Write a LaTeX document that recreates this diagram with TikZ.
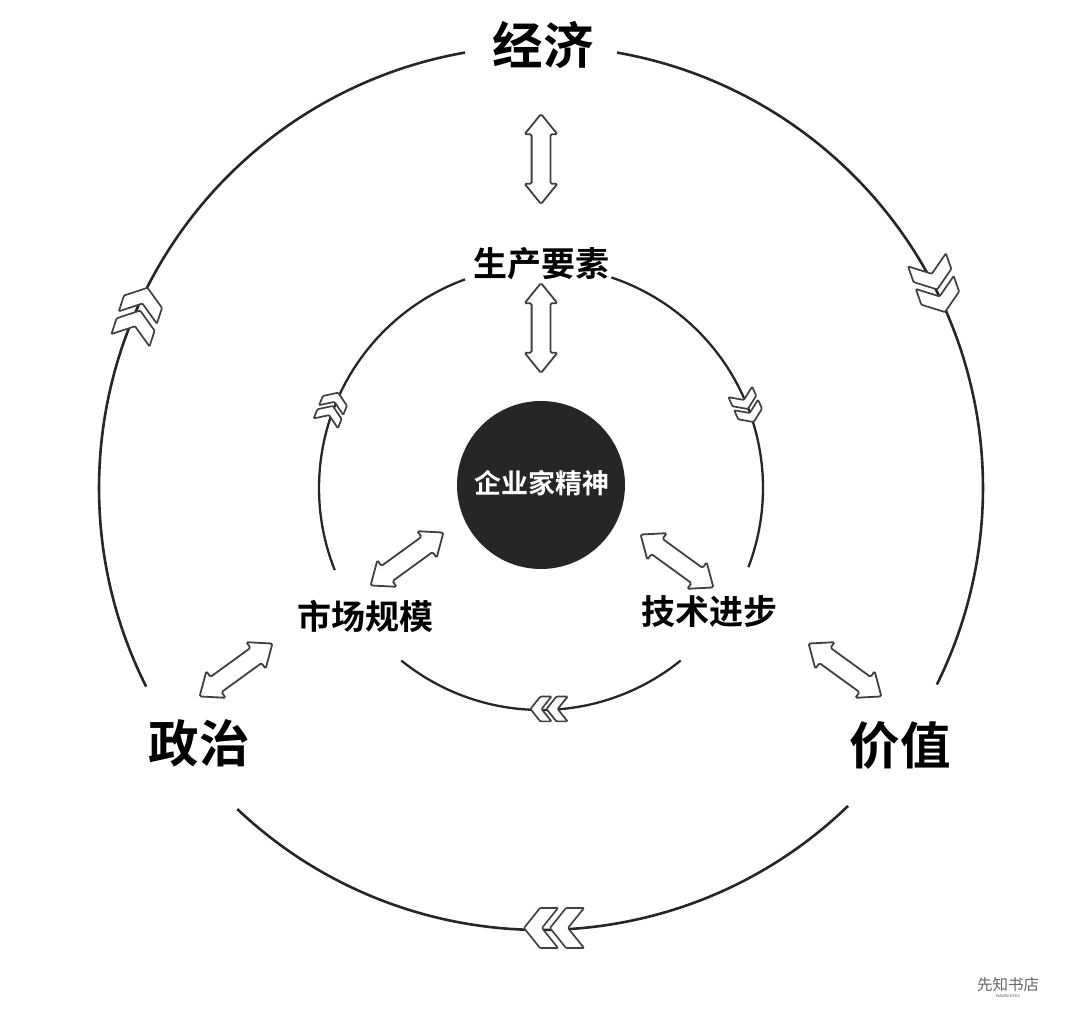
\documentclass[tikz,border=0pt]{standalone}
\usepackage{fontspec}
\newfontfamily\cjk{Noto Sans CJK SC}[BoldFont={Noto Sans CJK SC Bold}]
\usetikzlibrary{shapes.arrows}
\tikzset{
  bigarc/.style={line width=2.6pt, draw=black!85},
  smallarc/.style={line width=2.3pt, draw=black!85},
  twoway/.style={double arrow, draw=black!75, fill=white, line width=1.8pt, inner xsep=0pt, inner ysep=8.5pt,
    minimum width=31pt, minimum height=90pt, double arrow head extend=7pt,
    double arrow tip angle=78, rounded corners=1.5pt},
  biglabel/.style={font=\cjk\bfseries\fontsize{50.5}{51}\selectfont, inner sep=0pt},
  midlabel/.style={font=\cjk\bfseries\fontsize{34}{34}\selectfont, inner sep=0pt},
  chevrons/.pic={
    \draw[draw=black!75, fill=white, line width=1.7pt, rounded corners=1pt]
      (-12,20) -- (-30,20) -- (-14,0) -- (-30,-20) -- (-12,-20) -- (4,0) -- cycle;
    \draw[draw=black!75, fill=white, line width=1.7pt, rounded corners=1pt]
      (14,20) -- (-4,20) -- (12,0) -- (-4,-20) -- (14,-20) -- (30,0) -- cycle;
  }
}
\begin{document}
\begin{tikzpicture}[x=1pt,y=1pt]
\useasboundingbox (0,0) rectangle (1080,1028);
\coordinate (o) at (541,540);

\draw[bigarc] ([shift={(206.7:442)}]o) arc[start angle=206.7, end angle=99.9, radius=442];
\draw[bigarc] ([shift={(80.1:442)}]o) arc[start angle=80.1, end angle=-26.4, radius=442];
\draw[bigarc] ([shift={(-46:442)}]o) arc[start angle=-46, end angle=-133.4, radius=442];
\draw[smallarc] ([shift={(201.7:222)}]o) arc[start angle=201.7, end angle=110, radius=222];
\draw[smallarc] ([shift={(71.5:222)}]o) arc[start angle=71.5, end angle=-20.9, radius=222];
\draw[smallarc] ([shift={(-51:222)}]o) arc[start angle=-51, end angle=-129, radius=222];

\pic[rotate=-71, xscale=0.92] (chevecon) at (936,742) {chevrons};
\pic[rotate=72, xscale=0.92] (chevpol) at (139,714) {chevrons};
\pic[rotate=180] (chevval) at (554,100) {chevrons};
\pic[rotate=-66, xscale=0.55, yscale=0.65] (chevfac) at (747,621) {chevrons};
\pic[rotate=68, xscale=0.55, yscale=0.65] (chevmar) at (332,620) {chevrons};
\pic[rotate=180, xscale=0.62, yscale=0.62] (chevtec) at (549,319) {chevrons};

\node[circle, fill=black!85, minimum size=168pt, inner sep=0pt] (spirit) at (541,543) {};
\node[text=white, inner sep=0pt, font=\cjk\bfseries\fontsize{27}{27}\selectfont] (spirittext) at (542,545) {企业家精神};

\node[biglabel] (econ) at (543,983) {经济};
\node[biglabel] (pol) at (199,285) {政治};
\node[biglabel] (val) at (900,283) {价值};
\node[midlabel] (factor) at (541,764) {生产要素};
\node[midlabel] (market) at (365,412) {市场规模};
\node[midlabel] (tech) at (709,416) {技术进步};

\node[twoway, rotate=90] (a1) at (541,869) {};
\node[twoway, rotate=90] (a2) at (541,700) {};
\node[twoway, rotate=-36] (a3) at (677,467) {};
\node[twoway, rotate=-36] (a4) at (845,358) {};
\node[twoway, rotate=36] (a5) at (407,469) {};
\node[twoway, rotate=36] (a6) at (236,358) {};

\node[inner sep=0pt, text=black!60, font=\cjk\fontsize{15.5}{16}\selectfont] (shop) at (1008,43) {先知书店};
\node[inner sep=0pt, text=black!70, font=\sffamily\fontsize{4}{4}\selectfont] (brand) at (1008,32) {NAVIBOOKS};
\end{tikzpicture}
\end{document}
